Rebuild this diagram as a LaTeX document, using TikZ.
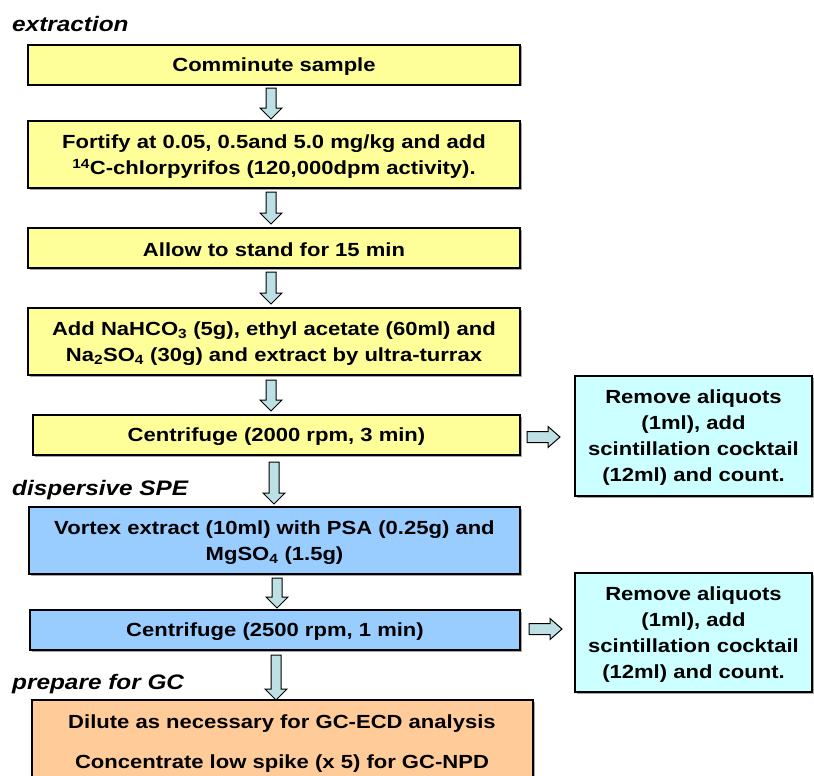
\documentclass[tikz,border=0pt]{standalone}
\usepackage{fontspec}
\setmainfont{Liberation Sans}[FakeStretch=1.16]
\usetikzlibrary{shadows,calc}
\definecolor{yel}{HTML}{FFFF99}
\definecolor{blu}{HTML}{99CCFF}
\definecolor{cya}{HTML}{CCFFFF}
\definecolor{ora}{HTML}{FFCC99}
\definecolor{arr}{HTML}{BCE0E4}
\newcommand{\mybox}[6]{% name, l, t, r, b, style
  \node[stepbox,#6,minimum width={#4-#2},minimum height={#5-#3}] (#1) at ({(#2+#4)/2},{(#3+#5)/2}) {};}
\newcommand{\darr}[4]{% name, x, ytop, ytip
  \coordinate (#1) at (#2,#4);
  \filldraw[arrowsty] ($(#1)+(-5,{#3-#4})$) -- ($(#1)+(-5,-11)$) -- ($(#1)+(-11,-11)$) -- (#1) -- ($(#1)+(11,-11)$) -- ($(#1)+(5,-11)$) -- ($(#1)+(5,{#3-#4})$) -- cycle;}
\newcommand{\rarr}[4]{% name, xstart, xtip, y
  \coordinate (#1) at (#3,#4);
  \filldraw[arrowsty] ($(#1)+({#2-#3},-5.5)$) -- ($(#1)+(-12,-5.5)$) -- ($(#1)+(-12,-10.5)$) -- (#1) -- ($(#1)+(-12,10.5)$) -- ($(#1)+(-12,5.5)$) -- ($(#1)+({#2-#3},5.5)$) -- cycle;}
\begin{document}
\begin{tikzpicture}[x=1pt,y=-1pt,
  stepbox/.style={draw=black,line width=1.2pt,inner sep=0pt,
    drop shadow={shadow xshift=1.5pt,shadow yshift=-1.5pt,fill=gray!70,opacity=1}},
  yb/.style={fill=yel}, bb/.style={fill=blu}, cb/.style={fill=cya}, ob/.style={fill=ora},
  txt/.style={font=\fontsize{19}{26}\selectfont\bfseries,align=center,inner sep=0pt,yshift=-2pt},
  lab/.style={font=\fontsize{21}{24}\selectfont\bfseries\itshape,anchor=west,inner sep=0pt},
  arrowsty/.style={draw=black,line width=1pt,fill=arr,line join=miter}]
\useasboundingbox (0,0) rectangle (814,776);
\begin{scope}
\clip (0,0) rectangle (814,776);
\mybox{b1}{28}{45}{520}{85}{yb}
\mybox{b2}{28}{121}{520}{188}{yb}
\mybox{b3}{28}{228}{520}{268}{yb}
\mybox{b4}{28}{308}{520}{375}{yb}
\mybox{b5}{33}{415}{520}{455}{yb}
\mybox{s1}{575}{376}{812}{496}{cb}
\mybox{b6}{29}{507}{520}{574}{bb}
\mybox{b7}{30}{610}{520}{650}{bb}
\mybox{s2}{575}{573}{812}{692}{cb}
\mybox{b8}{32}{700}{533}{800}{ob}
\end{scope}

\node[lab] (l1) at (12,24) {extraction};
\node[lab] (l2) at (12,490) {dispersive SPE};
\node[lab] (l3) at (12,684) {prepare for GC};

\node[txt] (t1) at (b1.center) {Comminute sample};
\node[txt] (t2) at (b2.center) {Fortify at 0.05, 0.5and 5.0 mg/kg and add\\\textsuperscript{14}C-chlorpyrifos (120,000dpm activity).};
\node[txt] (t3) at (b3.center) {Allow to stand for 15 min};
\node[txt] (t4) at (b4.center) {Add NaHCO\textsubscript{3} (5g), ethyl acetate (60ml) and\\Na\textsubscript{2}SO\textsubscript{4} (30g) and extract by ultra-turrax};
\node[txt] (t5) at (b5.center) {Centrifuge (2000 rpm, 3 min)};
\node[txt] (t6) at (b6.center) {Vortex extract (10ml) with PSA (0.25g) and\\MgSO\textsubscript{4} (1.5g)};
\node[txt] (t7) at (b7.center) {Centrifuge (2500 rpm, 1 min)};
\node[txt] (t8) at (282,742) {Dilute as necessary for GC-ECD analysis\\[14pt]Concentrate low spike (x 5) for GC-NPD};
\node[txt] (ts1) at (s1.center) {Remove aliquots\\(1ml), add\\scintillation cocktail\\(12ml) and count.};
\node[txt] (ts2) at (s2.center) {Remove aliquots\\(1ml), add\\scintillation cocktail\\(12ml) and count.};

\darr{a1}{271}{88}{119}
\darr{a2}{271}{192}{224}
\darr{a3}{271}{272}{304}
\darr{a4}{271}{380}{411}
\darr{a5}{274}{462}{504}
\darr{a6}{277}{578}{608}
\darr{a7}{276}{655}{700}
\rarr{r1}{527}{560}{437}
\rarr{r2}{529}{562}{629}
\end{tikzpicture}
\end{document}
